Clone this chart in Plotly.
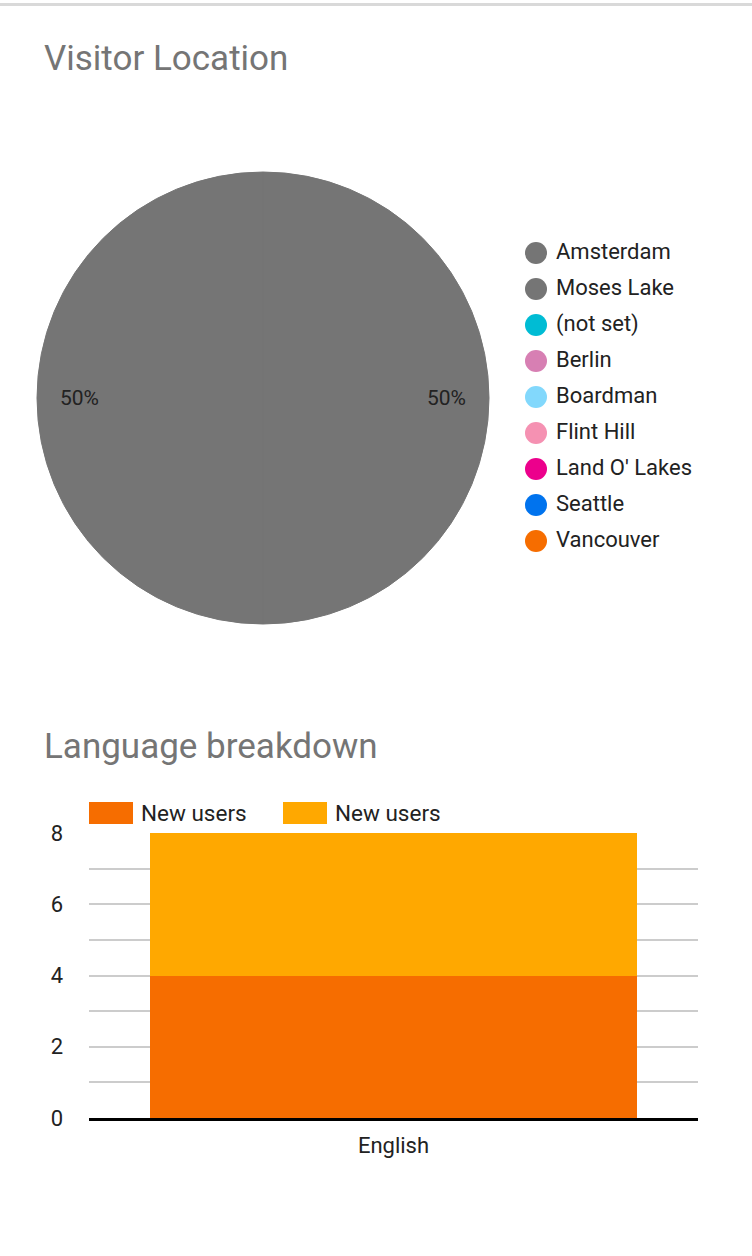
import math
import plotly.graph_objects as go

W, H = 752, 1256

# Visitor Location (pie)
locations = ["Amsterdam", "Moses Lake", "(not set)", "Berlin", "Boardman",
             "Flint Hill", "Land O' Lakes", "Seattle", "Vancouver"]
location_users = [1, 1, 0, 0, 0, 0, 0, 0, 0]
location_colors = ["#757575", "#757575", "#00BCD4", "#D77FB3", "#82D8FC",
                   "#F591B2", "#EC008C", "#0073EE", "#F66D00"]

# Language breakdown (stacked bar)
languages = ["English"]
series_names = ["New users", "New users"]
series_values = [[4], [4]]
series_colors = ["#F66D00", "#FFA800"]
y_ticks = [0, 2, 4, 6, 8]

fig = go.Figure()

# pie geometry in px
pie_left, pie_right, pie_top, pie_bottom = 37, 489, 172, 624
cx = (pie_left + pie_right) / 2
cy = (pie_top + pie_bottom) / 2
R = (pie_right - pie_left) / 2

fig.add_trace(go.Pie(
    labels=locations, values=location_users, sort=False, direction="clockwise",
    marker=dict(colors=location_colors,
                # outline only the real slices, to hide the seam between them
                line=dict(width=[1 if v > 0 else 0 for v in location_users],
                          color=location_colors)),
    textinfo="none", showlegend=False, hoverinfo="label+percent",
    domain=dict(x=[pie_left / W, pie_right / W], y=[1 - pie_bottom / H, 1 - pie_top / H]),
))

# slice labels placed like the original (near the rim)
total = sum(location_users)
cum = 0
annotations = []
for v in location_users:
    if v > 0:
        frac = v / total
        ang = 2 * math.pi * (cum + frac / 2)
        lx = cx + 0.814 * R * math.sin(ang)
        ly = cy - 0.814 * R * math.cos(ang)
        annotations.append(dict(
            x=lx / W, y=1 - ly / H, xref="paper", yref="paper", showarrow=False,
            text=f"{round(frac * 100)}%", font=dict(size=21, color="#222222"),
            xanchor="center", yanchor="middle"))
    cum += v / total

# pie legend: circles + labels on a hidden category axis (36px per row)
fig.add_trace(go.Scatter(
    x=[0] * len(locations), y=locations, mode="markers", xaxis="x2", yaxis="y2",
    marker=dict(size=22, color=location_colors, line=dict(width=0)),
    cliponaxis=False, hoverinfo="skip", showlegend=False))
fig.add_trace(go.Scatter(
    x=[20] * len(locations), y=locations, mode="text", text=locations,
    textposition="middle right", xaxis="x2", yaxis="y2",
    textfont=dict(size=22, color="#222222"),
    cliponaxis=False, hoverinfo="skip", showlegend=False))

for name, vals, col in zip(series_names, series_values, series_colors):
    fig.add_trace(go.Bar(x=languages, y=vals, name=name,
                         marker=dict(color=col, line=dict(width=0)), showlegend=False))

shapes = [
    dict(type="line", xref="paper", yref="paper", x0=0, x1=1, y0=1 - 4.5 / H, y1=1 - 4.5 / H,
         line=dict(color="#D9D9D9", width=3)),
    # baseline of the bar chart
    dict(type="line", xref="paper", yref="paper", x0=89 / W, x1=698 / W,
         y0=1 - 1119.5 / H, y1=1 - 1119.5 / H, line=dict(color="black", width=3)),
]
# bar legend drawn by hand (wide swatches)
for i, (name, col) in enumerate(zip(series_names, series_colors)):
    x0 = 89 + i * 194
    shapes.append(dict(type="rect", xref="paper", yref="paper", x0=x0 / W, x1=(x0 + 44) / W,
                       y0=1 - 824 / H, y1=1 - 802 / H, fillcolor=col, line=dict(width=0)))
    annotations.append(dict(x=(x0 + 50) / W, y=1 - 813 / H, xref="paper", yref="paper",
                            showarrow=False, text=name, xanchor="left", yanchor="middle",
                            font=dict(size=22.5, color="#222222")))

annotations.append(dict(x=42 / W, y=1 - 58 / H, xref="paper", yref="paper", showarrow=False,
                        text="Visitor Location", xanchor="left", yanchor="middle",
                        font=dict(size=35, color="#757575")))
annotations.append(dict(x=42 / W, y=1 - 746 / H, xref="paper", yref="paper", showarrow=False,
                        text="Language breakdown", xanchor="left", yanchor="middle",
                        font=dict(size=35, color="#757575")))

fig.update_layout(
    width=W, height=H,
    margin=dict(l=0, r=0, t=0, b=0, autoexpand=False),
    paper_bgcolor="white", plot_bgcolor="white",
    font=dict(family="Roboto", color="#222222"),
    barmode="stack", bargap=0.2,
    showlegend=False,
    shapes=shapes,
    annotations=annotations,
    xaxis=dict(domain=[89 / W, 698 / W], type="category", showgrid=False, showline=False,
               tickfont=dict(size=22, color="#222222"), ticks="", ticklabelstandoff=12,
               zeroline=False, automargin=False, fixedrange=True),
    yaxis=dict(domain=[1 - 1118 / H, 1 - 833 / H], range=[0, 8], tickvals=y_ticks,
               showgrid=True, gridcolor="#CCCCCC", gridwidth=2, zeroline=False,
               minor=dict(dtick=1, showgrid=True, gridcolor="#CCCCCC", gridwidth=2),
               tickfont=dict(size=22, color="#222222"), ticks="", ticklabelstandoff=25,
               automargin=False, fixedrange=True),
    xaxis2=dict(domain=[536 / W, 736 / W], range=[0, 200], visible=False,
                anchor="y2", fixedrange=True),
    yaxis2=dict(domain=[1 - 559 / H, 1 - 235 / H], type="category",
                categoryarray=locations, range=[8.5, -0.5], visible=False,
                anchor="x2", fixedrange=True),
)

# drop the default page margin so the figure starts at the window corner
fig.write_html("out.html", config={"displayModeBar": False},
               post_script="document.body.style.margin='0';document.body.style.overflow='hidden';")
